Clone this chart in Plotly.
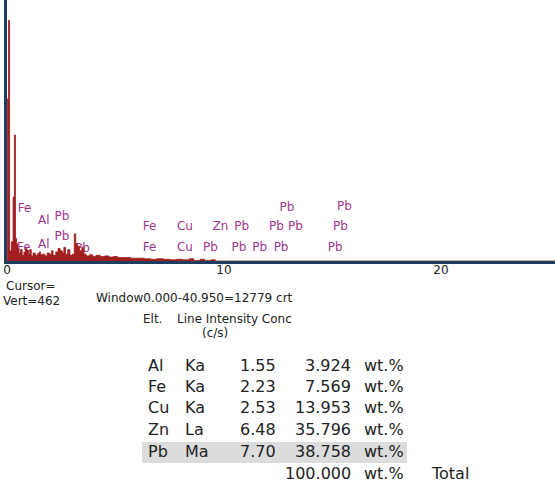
import plotly.graph_objects as go

# ---- spectrum data (energy keV, counts) ----
energy = [0.00, 0.02, 0.07, 0.12, 0.20, 0.28, 0.34, 0.39, 0.44, 0.50, 0.55, 0.62, 0.70, 0.78,
          0.85, 0.92, 1.00, 1.05, 1.12, 1.20, 1.30, 1.40, 1.48, 1.55, 1.65, 1.75, 1.85, 1.95,
          2.05, 2.12, 2.25, 2.35, 2.45, 2.55, 2.62, 2.70, 2.80, 2.90, 3.00, 3.10, 3.17, 3.25,
          3.35, 3.45, 3.55, 3.65, 3.80, 3.95, 4.10, 4.30, 4.50, 4.70, 4.90, 5.10, 5.40, 5.70,
          6.00, 6.30, 6.60, 6.90, 7.20, 7.50, 7.80, 8.10, 8.40, 8.60, 8.90, 9.10, 9.40, 9.60, 25.3]
counts = [0, 287, 426, 18, 34, 113, 223, 40, 30, 22, 14, 20, 10, 16,
          22, 18, 12, 20, 9, 14, 10, 13, 16, 11, 12, 9, 14, 12,
          18, 10, 16, 22, 18, 14, 24, 12, 20, 10, 12, 48, 30, 26,
          18, 24, 12, 9, 11, 8, 10, 8, 9, 7, 8, 6, 6, 5,
          5, 4, 3, 4, 3, 2, 3, 2, 4, 1, 3, 1, 2, 0, 0]

# ---- element marker labels ----
marker_text = ["Fe", "Al", "Pb", "Fe", "Al", "Pb", "Pb", "Fe", "Cu", "Fe", "Cu", "Zn",
               "Pb", "Pb", "Pb", "Pb", "Pb", "Pb", "Pb", "Pb", "Pb", "Pb", "Pb"]
marker_energy = [0.81, 1.70, 2.53, 0.78, 1.70, 2.53, 3.48, 6.57, 8.20, 6.57, 8.20, 9.84,
                 10.81, 12.42, 13.29, 15.37, 12.90, 15.55, 9.38, 10.69, 11.64, 12.63, 15.12]
marker_height = [92, 71, 78, 23, 28, 42, 21, 60, 60, 23, 23, 60,
                 60, 60, 60, 60, 94, 96, 23, 23, 23, 23, 23]

# ---- quantification table ----
elements = ["Al", "Fe", "Cu", "Zn", "Pb"]
lines = ["Ka", "Ka", "Ka", "La", "Ma"]
intensity = ["1.55", "2.23", "2.53", "6.48", "7.70"]
conc = ["3.924", "7.569", "13.953", "35.796", "38.758"]
total = "100.000"

tick_vals = [0, 10, 20]
tick_text = ["0", "10", "20"]

W, H = 555, 488
L, B = 7, 227
PW, PH = W - L, H - B
KEV_PX = 21.7

def px(x):
    return (x - L) / PW

def py(y):
    return (H - B - y) / PH

NAVY = "#1f3d5e"
RED = "#a01e1e"
PURPLE = "#a0348c"
FONT = "DejaVu Sans"
TXT = "#222222"

fig = go.Figure()
fig.add_trace(go.Scatter(x=marker_energy, y=marker_height, text=marker_text, mode="text",
                         textposition="middle center",
                         textfont=dict(family=FONT, size=12, color=PURPLE),
                         cliponaxis=False, hoverinfo="skip", showlegend=False))
fig.add_trace(go.Scatter(x=energy, y=counts, mode="lines", line_shape="hv",
                         line=dict(color=RED, width=0.8), fill="tozeroy", fillcolor=RED,
                         hoverinfo="skip", showlegend=False))

ann = []
def text(x, y, s, anchor="left", size=12):
    ann.append(dict(xref="paper", yref="paper", x=px(x), y=py(y), text=s, showarrow=False,
                    xanchor=anchor, yanchor="middle",
                    font=dict(family=FONT, size=size, color=TXT)))

text(4, 286, "Cursor=")
text(1, 301, "Vert=462")
text(94, 298, "Window0.000-40.950=12779 crt")
text(141, 319, "Elt.")
text(175, 319, "Line Intensity Conc")
text(215, 333, "(c/s)", anchor="center")

row_y = [365, 386, 408, 429, 451]
for i in range(len(elements)):
    y = row_y[i]
    text(146, y, elements[i], size=16)
    text(183, y, lines[i], size=16)
    text(278, y, intensity[i], anchor="right", size=16)
    text(353, y, conc[i], anchor="right", size=16)
    text(362, y, "wt.%", size=16)
text(353, 473, total, anchor="right", size=16)
text(362, 473, "wt.%", size=16)
text(429, 473, "Total", size=16)

shapes = [dict(type="rect", xref="paper", yref="paper", x0=px(142), x1=px(407),
               y0=py(463), y1=py(442), fillcolor="#dcdcdc", line=dict(width=0), layer="below")]

fig.update_layout(
    width=W, height=H, margin=dict(l=L, r=0, t=0, b=B),
    paper_bgcolor="white", plot_bgcolor="white",
    annotations=ann, shapes=shapes, showlegend=False,
    xaxis=dict(range=[0, PW / KEV_PX], showgrid=False, zeroline=False, showline=True,
               linecolor=NAVY, linewidth=3, tickvals=tick_vals, ticktext=tick_text, ticks="",
               ticklabelstandoff=-4,
               tickfont=dict(family=FONT, size=12, color=TXT), fixedrange=True),
    yaxis=dict(range=[0, 462], showgrid=False, zeroline=False, showline=True,
               linecolor=NAVY, linewidth=3, showticklabels=False, ticks="", fixedrange=True),
)

fig.write_html("out.html", config={"displayModeBar": False},
               post_script="document.body.style.margin='0';document.body.style.overflow='hidden';")
